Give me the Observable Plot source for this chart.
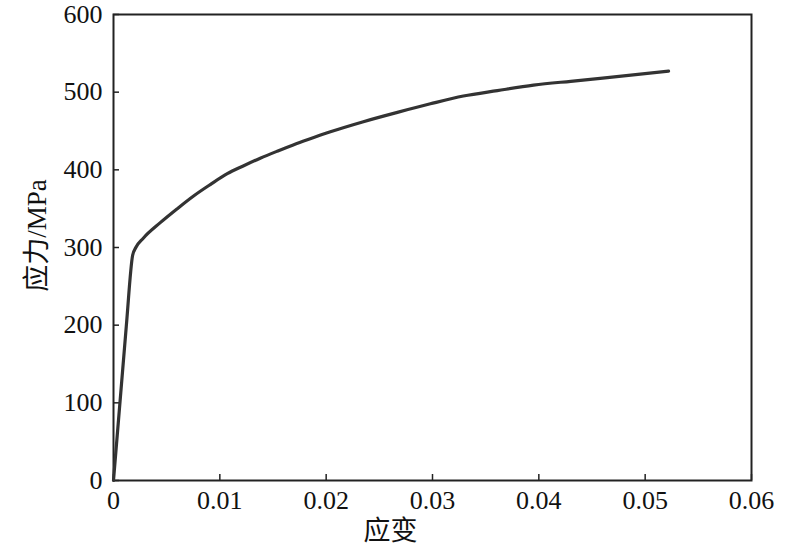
<!DOCTYPE html>
<html>
<head>
<meta charset="utf-8">
<script src="https://cdn.jsdelivr.net/npm/d3@7"></script>
<script src="https://cdn.jsdelivr.net/npm/@observablehq/plot@0.6"></script>
<style>
  html, body { margin: 0; padding: 0; background: #fff; }
  #chart { width: 800px; height: 552px; }
</style>
</head>
<body>
<div id="chart"></div>
<script>
const strain = [0, 0.0012, 0.0018, 0.0021, 0.0028, 0.0044, 0.0060, 0.0075, 0.0091, 0.0107, 0.0122, 0.0138, 0.0154, 0.0169, 0.0183, 0.0204, 0.0235, 0.0267, 0.0298, 0.0329, 0.0361, 0.0395, 0.0430, 0.0460, 0.0522];
const stress = [0, 198, 290, 300, 312, 332, 350, 366, 381, 395, 405, 415, 424, 432, 439, 449, 462, 474, 485, 495, 502, 509, 514, 518, 527];
const xTicks = [0, 0.01, 0.02, 0.03, 0.04, 0.05, 0.06];
const yTicks = [0, 100, 200, 300, 400, 500, 600];
const xLabel = "应变";
const yLabel = "应力/MPa";

const data = strain.map((s, i) => ({strain: s, stress: stress[i]}));
const font = "'Liberation Serif', 'Times New Roman', 'Noto Sans CJK SC', serif";

const chart = Plot.plot({
  width: 800,
  height: 552,
  marginLeft: 113,
  marginRight: 49,
  marginTop: 14,
  marginBottom: 72,
  style: {fontFamily: font, fontSize: "26px", color: "#111", background: "#fff"},
  x: {domain: [0, 0.06]},
  y: {domain: [0, 600]},
  marks: [
    Plot.axisX({ticks: xTicks, tickSize: 0, tickPadding: 10, tickFormat: d => `${d}`, label: null, fontSize: 26, fontFamily: font, fill: "#111"}),
    Plot.axisX({ticks: xTicks, tickSize: 6, text: null, dy: -6, label: null, stroke: "#222", strokeWidth: 1.5}),
    Plot.axisY({ticks: yTicks, tickSize: 0, tickPadding: 11, tickFormat: d => `${d}`, label: null, fontSize: 26, fontFamily: font, fill: "#111"}),
    Plot.axisY({ticks: yTicks, tickSize: 6, text: null, dx: 6, label: null, stroke: "#222", strokeWidth: 1.5}),
    Plot.frame({stroke: "#222", strokeWidth: 2}),
    Plot.line(data, {x: "strain", y: "stress", curve: "monotone-x", stroke: "#333", strokeWidth: 3.2, strokeLinejoin: "round", strokeLinecap: "round"}),
    Plot.text([xLabel], {text: d => d, frameAnchor: "bottom", textAnchor: "middle", lineAnchor: "top", dx: -42, dy: 40, fontSize: 27, fontFamily: font, fill: "#111"}),
    Plot.text([yLabel], {text: d => d, frameAnchor: "left", textAnchor: "middle", lineAnchor: "middle", dx: -76, dy: -12, rotate: -90, fontSize: 27, fontFamily: font, fill: "#111"})
  ]
});
document.getElementById("chart").appendChild(chart);
</script>
</body>
</html>
